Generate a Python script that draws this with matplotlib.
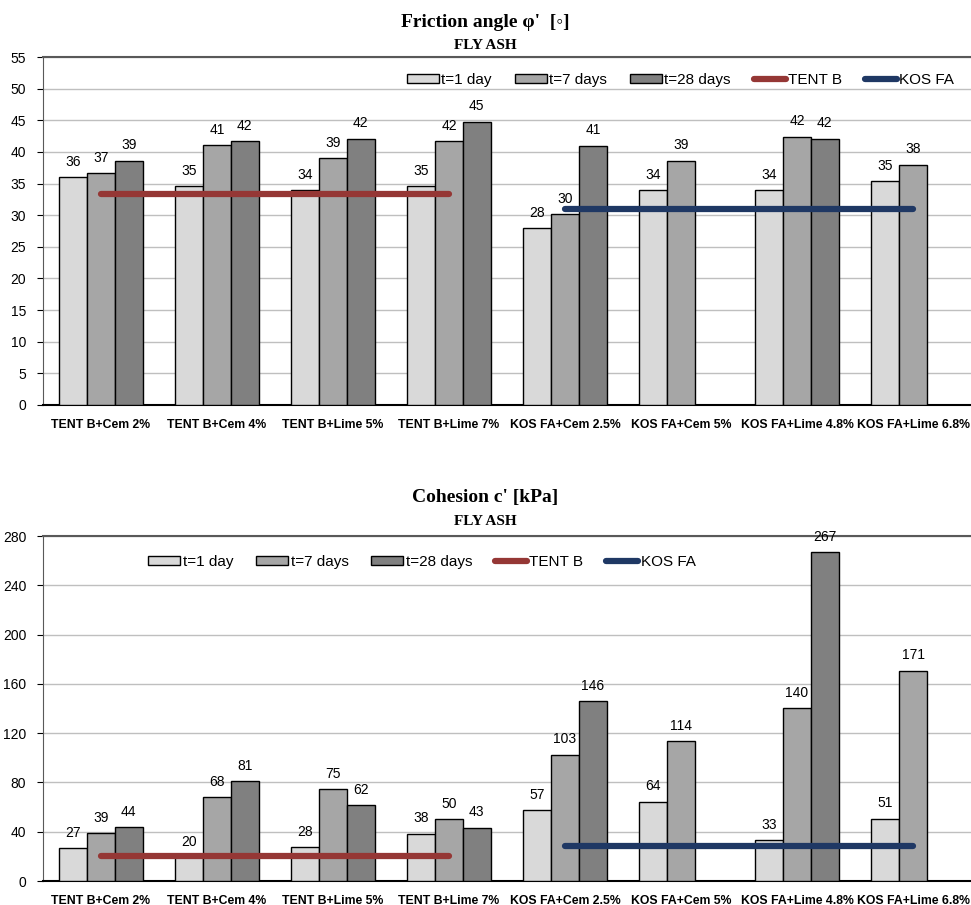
import numpy as np
import matplotlib.pyplot as plt
from matplotlib.patches import Patch
from matplotlib.lines import Line2D

categories = ['TENT B+Cem 2%', 'TENT B+Cem 4%', 'TENT B+Lime 5%', 'TENT B+Lime 7%',
              'KOS FA+Cem 2.5%', 'KOS FA+Cem 5%', 'KOS FA+Lime 4.8%', 'KOS FA+Lime 6.8%']
series_names = ['t=1 day', 't=7 days', 't=28 days']

# friction angle [deg]
phi_1d = [36.0, 34.6, 34.0, 34.6, 27.9, 34.0, 34.0, 35.4]
phi_7d = [36.6, 41.1, 39.0, 41.7, 30.2, 38.6, 42.4, 38.0]
phi_28d = [38.6, 41.7, 42.1, 44.8, 41.0, None, 42.1, None]
phi_tent = 33.4
phi_kos = 30.9

# cohesion [kPa]
c_1d = [26.6, 19.6, 27.6, 38.4, 57.4, 64.4, 33.0, 50.6]
c_7d = [38.6, 68.2, 74.7, 50.0, 102.6, 113.6, 140.4, 170.6]
c_28d = [43.6, 81.0, 61.8, 43.2, 146.0, None, 267.0, None]
c_tent = 20.0
c_kos = 28.1

colors = ['#d9d9d9', '#a6a6a6', '#808080']
tent_color = '#953735'
kos_color = '#1f3864'

plt.rcParams['font.family'] = ['Liberation Sans', 'DejaVu Sans']

fig = plt.figure(figsize=(9.71, 9.05), dpi=100)
ax1 = fig.add_axes([0.0443, 0.5525, 0.9557, 0.3845])
ax2 = fig.add_axes([0.0443, 0.0265, 0.9557, 0.3812])

x = np.arange(len(categories))
w = 0.24


def draw(ax, series, tent, kos, ymax, step, legend_anchor):
    for i, vals in enumerate(series):
        xs = [x[j] + (i - 1) * w for j, v in enumerate(vals) if v is not None]
        hs = [v for v in vals if v is not None]
        bars = ax.bar(xs, hs, width=w, color=colors[i], edgecolor='black',
                      linewidth=1, zorder=3)
        ax.bar_label(bars, fmt='%.0f', padding=6, fontsize=10)
    ax.plot([0, 3], [tent, tent], color=tent_color, lw=4.5,
            solid_capstyle='round', zorder=4)
    ax.plot([4, 7], [kos, kos], color=kos_color, lw=4.5,
            solid_capstyle='round', zorder=4)
    ax.set_xlim(-0.5, 7.5)
    ax.set_ylim(0, ymax)
    ax.set_yticks(np.arange(0, ymax + 1, step))
    ax.yaxis.grid(True, color='#bfbfbf', lw=1, zorder=0)
    ax.set_xticks(x)
    ax.set_xticklabels(categories, fontweight='bold', fontsize=8.8)
    ax.tick_params(axis='x', length=0, pad=10)
    ax.tick_params(axis='y', labelsize=10, length=4, pad=8)
    ax.spines['right'].set_visible(False)
    ax.spines['top'].set_color('#595959')
    ax.spines['top'].set_linewidth(1.5)
    ax.spines['bottom'].set_linewidth(1.5)
    ax.spines['left'].set_color('#595959')

    handles = [Patch(facecolor=c, edgecolor='black', label=n) for c, n in zip(colors, series_names)]
    handles += [Line2D([], [], color=tent_color, lw=4.5, solid_capstyle='round', label='TENT B'),
                Line2D([], [], color=kos_color, lw=4.5, solid_capstyle='round', label='KOS FA')]
    ax.legend(handles=handles, ncol=5, frameon=False, fontsize=11,
              loc='center', bbox_to_anchor=legend_anchor, bbox_transform=fig.transFigure,
              handlelength=2.1, handleheight=0.6, handletextpad=0.15, columnspacing=1.5)


draw(ax1, [phi_1d, phi_7d, phi_28d], phi_tent, phi_kos, 55, 5, (0.701, 0.9116))
draw(ax2, [c_1d, c_7d, c_28d], c_tent, c_kos, 280, 40, (0.4346, 0.379))

serif = ['Liberation Serif', 'DejaVu Serif']
fig.text(0.5, 0.975, "Friction angle \u03c6'  [\u25e6]", ha='center', va='center',
         fontsize=14, fontweight='bold', family=serif)
fig.text(0.5, 0.95, 'FLY ASH', ha='center', va='center', fontsize=11,
         fontweight='bold', family=serif)
fig.text(0.5, 0.45, "Cohesion c' [kPa]", ha='center', va='center',
         fontsize=14, fontweight='bold', family=serif)
fig.text(0.5, 0.424, 'FLY ASH', ha='center', va='center', fontsize=11,
         fontweight='bold', family=serif)

fig.savefig('out.png', dpi=100)
